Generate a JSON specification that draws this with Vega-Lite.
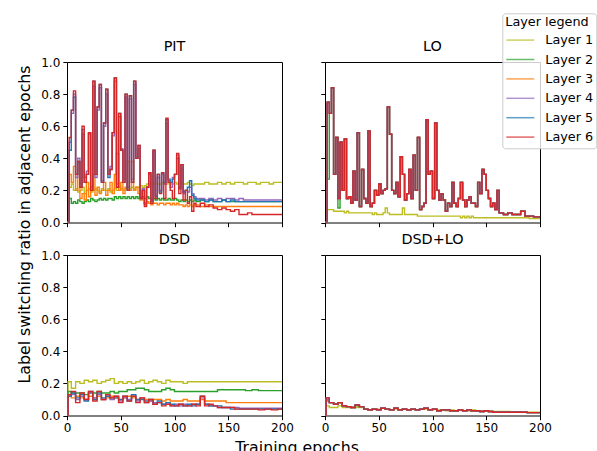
{
"$schema": "https://vega.github.io/schema/vega-lite/v6.json",
"padding": {"left": 15, "top": 12, "right": 0, "bottom": 0},
"config": {
  "font": "DejaVu Sans",
  "view": {"stroke": "black", "strokeWidth": 1},
  "title": {"fontSize": 14.4, "fontWeight": "normal", "color": "black", "offset": 7.4, "baseline": "alphabetic", "anchor": "middle"},
  "axis": {"grid": false, "domain": false, "tickColor": "black", "tickSize": 4.2, "tickWidth": 1, "labelColor": "black", "labelFontSize": 12, "labelPadding": 3, "titleFontWeight": "normal", "titleFontSize": 15.8, "titleColor": "black", "labelFlush": false, "labelOverlap": false}
},
"datasets": {"d": [
{"p":"PIT","e":0,"L1":0,"L2":0,"L3":0,"L4":0,"L5":0,"L6":0},
{"p":"PIT","e":2,"L1":0.22,"L2":0.15,"L3":0.30,"L4":0.50,"L5":0.45,"L6":0.53},
{"p":"PIT","e":4,"L1":0.24,"L2":0.12,"L3":0.25,"L4":0.68,"L5":0.70,"L6":0.70},
{"p":"PIT","e":6,"L1":0.20,"L2":0.13,"L3":0.35,"L4":0.80,"L5":0.78,"L6":0.82},
{"p":"PIT","e":8,"L1":0.21,"L2":0.12,"L3":0.20,"L4":0.28,"L5":0.30,"L6":0.30},
{"p":"PIT","e":10,"L1":0.19,"L2":0.14,"L3":0.37,"L4":0.40,"L5":0.38,"L6":0.38},
{"p":"PIT","e":12,"L1":0.20,"L2":0.13,"L3":0.15,"L4":0.24,"L5":0.22,"L6":0.22},
{"p":"PIT","e":14,"L1":0.22,"L2":0.12,"L3":0.18,"L4":0.55,"L5":0.58,"L6":0.60},
{"p":"PIT","e":16,"L1":0.18,"L2":0.13,"L3":0.14,"L4":0.28,"L5":0.25,"L6":0.25},
{"p":"PIT","e":18,"L1":0.20,"L2":0.14,"L3":0.25,"L4":0.32,"L5":0.30,"L6":0.30},
{"p":"PIT","e":20,"L1":0.21,"L2":0.13,"L3":0.16,"L4":0.55,"L5":0.56,"L6":0.56},
{"p":"PIT","e":22,"L1":0.19,"L2":0.15,"L3":0.20,"L4":0.22,"L5":0.20,"L6":0.20},
{"p":"PIT","e":24,"L1":0.20,"L2":0.14,"L3":0.30,"L4":0.85,"L5":0.88,"L6":0.88},
{"p":"PIT","e":26,"L1":0.21,"L2":0.13,"L3":0.17,"L4":0.28,"L5":0.30,"L6":0.30},
{"p":"PIT","e":28,"L1":0.20,"L2":0.14,"L3":0.22,"L4":0.70,"L5":0.72,"L6":0.72},
{"p":"PIT","e":30,"L1":0.19,"L2":0.15,"L3":0.18,"L4":0.84,"L5":0.86,"L6":0.86},
{"p":"PIT","e":32,"L1":0.21,"L2":0.14,"L3":0.20,"L4":0.26,"L5":0.25,"L6":0.25},
{"p":"PIT","e":34,"L1":0.20,"L2":0.15,"L3":0.25,"L4":0.60,"L5":0.62,"L6":0.62},
{"p":"PIT","e":36,"L1":0.20,"L2":0.14,"L3":0.17,"L4":0.80,"L5":0.83,"L6":0.83},
{"p":"PIT","e":38,"L1":0.21,"L2":0.15,"L3":0.20,"L4":0.30,"L5":0.28,"L6":0.30},
{"p":"PIT","e":40,"L1":0.19,"L2":0.15,"L3":0.25,"L4":0.35,"L5":0.33,"L6":0.33},
{"p":"PIT","e":42,"L1":0.20,"L2":0.14,"L3":0.18,"L4":0.54,"L5":0.56,"L6":0.56},
{"p":"PIT","e":44,"L1":0.21,"L2":0.16,"L3":0.30,"L4":0.88,"L5":0.90,"L6":0.90},
{"p":"PIT","e":46,"L1":0.20,"L2":0.15,"L3":0.43,"L4":0.24,"L5":0.22,"L6":0.22},
{"p":"PIT","e":48,"L1":0.22,"L2":0.16,"L3":0.20,"L4":0.66,"L5":0.68,"L6":0.68},
{"p":"PIT","e":50,"L1":0.21,"L2":0.15,"L3":0.25,"L4":0.46,"L5":0.45,"L6":0.45},
{"p":"PIT","e":52,"L1":0.20,"L2":0.16,"L3":0.18,"L4":0.27,"L5":0.25,"L6":0.25},
{"p":"PIT","e":54,"L1":0.21,"L2":0.15,"L3":0.22,"L4":0.78,"L5":0.80,"L6":0.80},
{"p":"PIT","e":56,"L1":0.22,"L2":0.16,"L3":0.38,"L4":0.22,"L5":0.20,"L6":0.20},
{"p":"PIT","e":58,"L1":0.21,"L2":0.15,"L3":0.20,"L4":0.77,"L5":0.79,"L6":0.79},
{"p":"PIT","e":60,"L1":0.22,"L2":0.16,"L3":0.38,"L4":0.27,"L5":0.25,"L6":0.25},
{"p":"PIT","e":62,"L1":0.21,"L2":0.15,"L3":0.20,"L4":0.86,"L5":0.88,"L6":0.88},
{"p":"PIT","e":64,"L1":0.22,"L2":0.16,"L3":0.22,"L4":0.40,"L5":0.40,"L6":0.40},
{"p":"PIT","e":66,"L1":0.22,"L2":0.15,"L3":0.18,"L4":0.46,"L5":0.48,"L6":0.48},
{"p":"PIT","e":68,"L1":0.23,"L2":0.15,"L3":0.14,"L4":0.16,"L5":0.15,"L6":0.15},
{"p":"PIT","e":70,"L1":0.22,"L2":0.16,"L3":0.15,"L4":0.21,"L5":0.20,"L6":0.20},
{"p":"PIT","e":72,"L1":0.23,"L2":0.15,"L3":0.12,"L4":0.12,"L5":0.11,"L6":0.10},
{"p":"PIT","e":74,"L1":0.24,"L2":0.16,"L3":0.13,"L4":0.22,"L5":0.22,"L6":0.22},
{"p":"PIT","e":76,"L1":0.24,"L2":0.15,"L3":0.12,"L4":0.30,"L5":0.31,"L6":0.31},
{"p":"PIT","e":78,"L1":0.25,"L2":0.15,"L3":0.11,"L4":0.14,"L5":0.13,"L6":0.12},
{"p":"PIT","e":80,"L1":0.24,"L2":0.15,"L3":0.12,"L4":0.44,"L5":0.45,"L6":0.45},
{"p":"PIT","e":82,"L1":0.25,"L2":0.14,"L3":0.12,"L4":0.17,"L5":0.16,"L6":0.15},
{"p":"PIT","e":84,"L1":0.24,"L2":0.15,"L3":0.11,"L4":0.28,"L5":0.30,"L6":0.30},
{"p":"PIT","e":86,"L1":0.24,"L2":0.14,"L3":0.12,"L4":0.20,"L5":0.19,"L6":0.18},
{"p":"PIT","e":88,"L1":0.25,"L2":0.15,"L3":0.12,"L4":0.30,"L5":0.31,"L6":0.31},
{"p":"PIT","e":90,"L1":0.24,"L2":0.14,"L3":0.11,"L4":0.24,"L5":0.25,"L6":0.15},
{"p":"PIT","e":92,"L1":0.24,"L2":0.14,"L3":0.12,"L4":0.62,"L5":0.64,"L6":0.65},
{"p":"PIT","e":94,"L1":0.25,"L2":0.15,"L3":0.12,"L4":0.26,"L5":0.27,"L6":0.25},
{"p":"PIT","e":96,"L1":0.24,"L2":0.14,"L3":0.11,"L4":0.22,"L5":0.25,"L6":0.20},
{"p":"PIT","e":98,"L1":0.24,"L2":0.14,"L3":0.12,"L4":0.28,"L5":0.27,"L6":0.15},
{"p":"PIT","e":100,"L1":0.25,"L2":0.15,"L3":0.11,"L4":0.30,"L5":0.30,"L6":0.30},
{"p":"PIT","e":102,"L1":0.24,"L2":0.14,"L3":0.12,"L4":0.42,"L5":0.40,"L6":0.43},
{"p":"PIT","e":104,"L1":0.24,"L2":0.13,"L3":0.11,"L4":0.22,"L5":0.21,"L6":0.18},
{"p":"PIT","e":106,"L1":0.25,"L2":0.14,"L3":0.11,"L4":0.34,"L5":0.36,"L6":0.36},
{"p":"PIT","e":108,"L1":0.24,"L2":0.13,"L3":0.10,"L4":0.18,"L5":0.19,"L6":0.14},
{"p":"PIT","e":110,"L1":0.24,"L2":0.14,"L3":0.11,"L4":0.20,"L5":0.20,"L6":0.20},
{"p":"PIT","e":112,"L1":0.25,"L2":0.13,"L3":0.10,"L4":0.19,"L5":0.22,"L6":0.12},
{"p":"PIT","e":114,"L1":0.24,"L2":0.14,"L3":0.11,"L4":0.22,"L5":0.26,"L6":0.16},
{"p":"PIT","e":116,"L1":0.23,"L2":0.13,"L3":0.10,"L4":0.18,"L5":0.17,"L6":0.07},
{"p":"PIT","e":118,"L1":0.24,"L2":0.14,"L3":0.11,"L4":0.16,"L5":0.15,"L6":0.12},
{"p":"PIT","e":120,"L1":0.24,"L2":0.13,"L3":0.11,"L4":0.15,"L5":0.14,"L6":0.10},
{"p":"PIT","e":124,"L1":0.24,"L2":0.14,"L3":0.10,"L4":0.15,"L5":0.14,"L6":0.12},
{"p":"PIT","e":128,"L1":0.25,"L2":0.13,"L3":0.11,"L4":0.14,"L5":0.13,"L6":0.10},
{"p":"PIT","e":132,"L1":0.24,"L2":0.14,"L3":0.10,"L4":0.15,"L5":0.14,"L6":0.11},
{"p":"PIT","e":136,"L1":0.24,"L2":0.13,"L3":0.10,"L4":0.14,"L5":0.13,"L6":0.09},
{"p":"PIT","e":140,"L1":0.25,"L2":0.13,"L3":0.10,"L4":0.15,"L5":0.13,"L6":0.08},
{"p":"PIT","e":144,"L1":0.24,"L2":0.14,"L3":0.10,"L4":0.14,"L5":0.14,"L6":0.09},
{"p":"PIT","e":148,"L1":0.25,"L2":0.13,"L3":0.10,"L4":0.15,"L5":0.13,"L6":0.08},
{"p":"PIT","e":152,"L1":0.24,"L2":0.13,"L3":0.10,"L4":0.15,"L5":0.14,"L6":0.07},
{"p":"PIT","e":156,"L1":0.25,"L2":0.13,"L3":0.10,"L4":0.14,"L5":0.13,"L6":0.08},
{"p":"PIT","e":160,"L1":0.25,"L2":0.13,"L3":0.10,"L4":0.15,"L5":0.13,"L6":0.05},
{"p":"PIT","e":164,"L1":0.24,"L2":0.13,"L3":0.10,"L4":0.14,"L5":0.13,"L6":0.05},
{"p":"PIT","e":168,"L1":0.25,"L2":0.13,"L3":0.10,"L4":0.14,"L5":0.13,"L6":0.06},
{"p":"PIT","e":172,"L1":0.25,"L2":0.13,"L3":0.10,"L4":0.14,"L5":0.13,"L6":0.05},
{"p":"PIT","e":176,"L1":0.24,"L2":0.13,"L3":0.10,"L4":0.14,"L5":0.13,"L6":0.05},
{"p":"PIT","e":180,"L1":0.25,"L2":0.13,"L3":0.10,"L4":0.14,"L5":0.13,"L6":0.05},
{"p":"PIT","e":184,"L1":0.25,"L2":0.13,"L3":0.10,"L4":0.14,"L5":0.13,"L6":0.05},
{"p":"PIT","e":188,"L1":0.24,"L2":0.13,"L3":0.10,"L4":0.14,"L5":0.13,"L6":0.05},
{"p":"PIT","e":192,"L1":0.25,"L2":0.13,"L3":0.10,"L4":0.14,"L5":0.13,"L6":0.05},
{"p":"PIT","e":196,"L1":0.25,"L2":0.13,"L3":0.10,"L4":0.14,"L5":0.13,"L6":0.05},
{"p":"PIT","e":200,"L1":0.25,"L2":0.13,"L3":0.10,"L4":0.14,"L5":0.13,"L6":0.05},

{"p":"LO","e":0,"L1":0,"L2":0,"L3":0,"L4":0,"L5":0,"L6":0},
{"p":"LO","e":2,"L1":0.08,"L2":0.27,"L3":0.74,"L4":0.75,"L5":0.75,"L6":0.75},
{"p":"LO","e":4,"L1":0.08,"L2":0.68,"L3":0.68,"L4":0.68,"L5":0.68,"L6":0.68},
{"p":"LO","e":6,"L1":0.08,"L2":0.84,"L3":0.84,"L4":0.84,"L5":0.84,"L6":0.84},
{"p":"LO","e":8,"L1":0.07,"L2":0.30,"L3":0.30,"L4":0.30,"L5":0.30,"L6":0.30},
{"p":"LO","e":10,"L1":0.07,"L2":0.53,"L3":0.53,"L4":0.53,"L5":0.53,"L6":0.53},
{"p":"LO","e":12,"L1":0.07,"L2":0.09,"L3":0.15,"L4":0.15,"L5":0.15,"L6":0.15},
{"p":"LO","e":14,"L1":0.07,"L2":0.50,"L3":0.50,"L4":0.50,"L5":0.50,"L6":0.50},
{"p":"LO","e":16,"L1":0.07,"L2":0.20,"L3":0.20,"L4":0.20,"L5":0.20,"L6":0.20},
{"p":"LO","e":18,"L1":0.06,"L2":0.52,"L3":0.52,"L4":0.52,"L5":0.52,"L6":0.52},
{"p":"LO","e":20,"L1":0.07,"L2":0.15,"L3":0.15,"L4":0.15,"L5":0.15,"L6":0.15},
{"p":"LO","e":22,"L1":0.06,"L2":0.16,"L3":0.16,"L4":0.16,"L5":0.16,"L6":0.16},
{"p":"LO","e":24,"L1":0.06,"L2":0.12,"L3":0.12,"L4":0.12,"L5":0.12,"L6":0.12},
{"p":"LO","e":26,"L1":0.06,"L2":0.32,"L3":0.32,"L4":0.32,"L5":0.32,"L6":0.32},
{"p":"LO","e":28,"L1":0.06,"L2":0.14,"L3":0.14,"L4":0.14,"L5":0.14,"L6":0.14},
{"p":"LO","e":30,"L1":0.06,"L2":0.56,"L3":0.56,"L4":0.56,"L5":0.56,"L6":0.56},
{"p":"LO","e":32,"L1":0.06,"L2":0.10,"L3":0.10,"L4":0.10,"L5":0.10,"L6":0.10},
{"p":"LO","e":34,"L1":0.06,"L2":0.33,"L3":0.33,"L4":0.33,"L5":0.33,"L6":0.33},
{"p":"LO","e":36,"L1":0.06,"L2":0.15,"L3":0.15,"L4":0.15,"L5":0.15,"L6":0.15},
{"p":"LO","e":38,"L1":0.06,"L2":0.12,"L3":0.12,"L4":0.12,"L5":0.12,"L6":0.12},
{"p":"LO","e":40,"L1":0.06,"L2":0.57,"L3":0.57,"L4":0.57,"L5":0.57,"L6":0.57},
{"p":"LO","e":42,"L1":0.06,"L2":0.10,"L3":0.10,"L4":0.10,"L5":0.10,"L6":0.10},
{"p":"LO","e":44,"L1":0.05,"L2":0.12,"L3":0.12,"L4":0.12,"L5":0.12,"L6":0.12},
{"p":"LO","e":46,"L1":0.06,"L2":0.20,"L3":0.20,"L4":0.20,"L5":0.20,"L6":0.20},
{"p":"LO","e":48,"L1":0.05,"L2":0.17,"L3":0.17,"L4":0.17,"L5":0.17,"L6":0.17},
{"p":"LO","e":50,"L1":0.05,"L2":0.24,"L3":0.24,"L4":0.24,"L5":0.24,"L6":0.24},
{"p":"LO","e":52,"L1":0.05,"L2":0.18,"L3":0.18,"L4":0.18,"L5":0.18,"L6":0.18},
{"p":"LO","e":54,"L1":0.06,"L2":0.20,"L3":0.20,"L4":0.20,"L5":0.20,"L6":0.20},
{"p":"LO","e":56,"L1":0.09,"L2":0.21,"L3":0.21,"L4":0.21,"L5":0.21,"L6":0.21},
{"p":"LO","e":58,"L1":0.06,"L2":0.72,"L3":0.72,"L4":0.72,"L5":0.72,"L6":0.72},
{"p":"LO","e":60,"L1":0.05,"L2":0.55,"L3":0.55,"L4":0.55,"L5":0.55,"L6":0.55},
{"p":"LO","e":62,"L1":0.05,"L2":0.20,"L3":0.20,"L4":0.20,"L5":0.20,"L6":0.20},
{"p":"LO","e":64,"L1":0.05,"L2":0.18,"L3":0.18,"L4":0.18,"L5":0.18,"L6":0.18},
{"p":"LO","e":66,"L1":0.05,"L2":0.25,"L3":0.25,"L4":0.25,"L5":0.25,"L6":0.25},
{"p":"LO","e":68,"L1":0.05,"L2":0.16,"L3":0.16,"L4":0.16,"L5":0.16,"L6":0.16},
{"p":"LO","e":70,"L1":0.05,"L2":0.41,"L3":0.41,"L4":0.41,"L5":0.41,"L6":0.41},
{"p":"LO","e":72,"L1":0.09,"L2":0.30,"L3":0.30,"L4":0.30,"L5":0.30,"L6":0.30},
{"p":"LO","e":74,"L1":0.05,"L2":0.14,"L3":0.14,"L4":0.14,"L5":0.14,"L6":0.14},
{"p":"LO","e":76,"L1":0.05,"L2":0.18,"L3":0.18,"L4":0.18,"L5":0.18,"L6":0.18},
{"p":"LO","e":78,"L1":0.05,"L2":0.33,"L3":0.33,"L4":0.33,"L5":0.33,"L6":0.33},
{"p":"LO","e":80,"L1":0.05,"L2":0.15,"L3":0.15,"L4":0.15,"L5":0.15,"L6":0.15},
{"p":"LO","e":82,"L1":0.05,"L2":0.42,"L3":0.42,"L4":0.42,"L5":0.42,"L6":0.42},
{"p":"LO","e":84,"L1":0.05,"L2":0.20,"L3":0.20,"L4":0.20,"L5":0.20,"L6":0.20},
{"p":"LO","e":86,"L1":0.04,"L2":0.53,"L3":0.53,"L4":0.53,"L5":0.53,"L6":0.53},
{"p":"LO","e":88,"L1":0.04,"L2":0.08,"L3":0.08,"L4":0.08,"L5":0.08,"L6":0.08},
{"p":"LO","e":90,"L1":0.04,"L2":0.10,"L3":0.10,"L4":0.10,"L5":0.10,"L6":0.10},
{"p":"LO","e":92,"L1":0.04,"L2":0.12,"L3":0.12,"L4":0.12,"L5":0.12,"L6":0.12},
{"p":"LO","e":94,"L1":0.04,"L2":0.64,"L3":0.64,"L4":0.64,"L5":0.64,"L6":0.64},
{"p":"LO","e":96,"L1":0.04,"L2":0.30,"L3":0.30,"L4":0.30,"L5":0.30,"L6":0.30},
{"p":"LO","e":98,"L1":0.04,"L2":0.32,"L3":0.32,"L4":0.32,"L5":0.32,"L6":0.32},
{"p":"LO","e":100,"L1":0.04,"L2":0.15,"L3":0.15,"L4":0.15,"L5":0.15,"L6":0.15},
{"p":"LO","e":102,"L1":0.04,"L2":0.62,"L3":0.62,"L4":0.62,"L5":0.62,"L6":0.62},
{"p":"LO","e":104,"L1":0.04,"L2":0.20,"L3":0.20,"L4":0.20,"L5":0.20,"L6":0.20},
{"p":"LO","e":106,"L1":0.04,"L2":0.14,"L3":0.14,"L4":0.14,"L5":0.14,"L6":0.14},
{"p":"LO","e":108,"L1":0.04,"L2":0.18,"L3":0.18,"L4":0.18,"L5":0.18,"L6":0.18},
{"p":"LO","e":110,"L1":0.04,"L2":0.14,"L3":0.14,"L4":0.14,"L5":0.14,"L6":0.14},
{"p":"LO","e":112,"L1":0.04,"L2":0.07,"L3":0.07,"L4":0.07,"L5":0.07,"L6":0.07},
{"p":"LO","e":114,"L1":0.04,"L2":0.12,"L3":0.12,"L4":0.12,"L5":0.12,"L6":0.12},
{"p":"LO","e":116,"L1":0.04,"L2":0.10,"L3":0.10,"L4":0.10,"L5":0.10,"L6":0.10},
{"p":"LO","e":118,"L1":0.04,"L2":0.25,"L3":0.25,"L4":0.25,"L5":0.25,"L6":0.25},
{"p":"LO","e":120,"L1":0.04,"L2":0.12,"L3":0.12,"L4":0.12,"L5":0.12,"L6":0.12},
{"p":"LO","e":122,"L1":0.04,"L2":0.10,"L3":0.10,"L4":0.10,"L5":0.10,"L6":0.10},
{"p":"LO","e":124,"L1":0.04,"L2":0.15,"L3":0.15,"L4":0.15,"L5":0.15,"L6":0.15},
{"p":"LO","e":126,"L1":0.03,"L2":0.25,"L3":0.25,"L4":0.25,"L5":0.25,"L6":0.25},
{"p":"LO","e":128,"L1":0.04,"L2":0.14,"L3":0.14,"L4":0.14,"L5":0.14,"L6":0.14},
{"p":"LO","e":130,"L1":0.03,"L2":0.10,"L3":0.10,"L4":0.10,"L5":0.10,"L6":0.10},
{"p":"LO","e":132,"L1":0.04,"L2":0.14,"L3":0.14,"L4":0.14,"L5":0.14,"L6":0.14},
{"p":"LO","e":134,"L1":0.03,"L2":0.16,"L3":0.16,"L4":0.16,"L5":0.16,"L6":0.16},
{"p":"LO","e":136,"L1":0.04,"L2":0.12,"L3":0.12,"L4":0.12,"L5":0.12,"L6":0.12},
{"p":"LO","e":138,"L1":0.03,"L2":0.12,"L3":0.12,"L4":0.12,"L5":0.12,"L6":0.12},
{"p":"LO","e":140,"L1":0.03,"L2":0.10,"L3":0.10,"L4":0.10,"L5":0.10,"L6":0.10},
{"p":"LO","e":142,"L1":0.03,"L2":0.25,"L3":0.25,"L4":0.25,"L5":0.25,"L6":0.25},
{"p":"LO","e":144,"L1":0.03,"L2":0.18,"L3":0.18,"L4":0.18,"L5":0.18,"L6":0.18},
{"p":"LO","e":146,"L1":0.03,"L2":0.33,"L3":0.33,"L4":0.33,"L5":0.33,"L6":0.33},
{"p":"LO","e":148,"L1":0.03,"L2":0.30,"L3":0.30,"L4":0.30,"L5":0.30,"L6":0.30},
{"p":"LO","e":150,"L1":0.03,"L2":0.20,"L3":0.20,"L4":0.20,"L5":0.20,"L6":0.20},
{"p":"LO","e":152,"L1":0.03,"L2":0.15,"L3":0.15,"L4":0.15,"L5":0.15,"L6":0.15},
{"p":"LO","e":154,"L1":0.03,"L2":0.10,"L3":0.10,"L4":0.10,"L5":0.10,"L6":0.10},
{"p":"LO","e":156,"L1":0.03,"L2":0.12,"L3":0.12,"L4":0.12,"L5":0.12,"L6":0.12},
{"p":"LO","e":158,"L1":0.03,"L2":0.08,"L3":0.08,"L4":0.08,"L5":0.08,"L6":0.08},
{"p":"LO","e":160,"L1":0.03,"L2":0.20,"L3":0.20,"L4":0.20,"L5":0.20,"L6":0.20},
{"p":"LO","e":162,"L1":0.03,"L2":0.06,"L3":0.06,"L4":0.06,"L5":0.06,"L6":0.06},
{"p":"LO","e":166,"L1":0.03,"L2":0.05,"L3":0.05,"L4":0.05,"L5":0.05,"L6":0.05},
{"p":"LO","e":170,"L1":0.03,"L2":0.06,"L3":0.06,"L4":0.06,"L5":0.06,"L6":0.06},
{"p":"LO","e":174,"L1":0.03,"L2":0.05,"L3":0.05,"L4":0.05,"L5":0.05,"L6":0.05},
{"p":"LO","e":178,"L1":0.03,"L2":0.05,"L3":0.05,"L4":0.05,"L5":0.05,"L6":0.05},
{"p":"LO","e":182,"L1":0.03,"L2":0.07,"L3":0.07,"L4":0.07,"L5":0.07,"L6":0.07},
{"p":"LO","e":186,"L1":0.03,"L2":0.04,"L3":0.04,"L4":0.04,"L5":0.04,"L6":0.04},
{"p":"LO","e":190,"L1":0.025,"L2":0.04,"L3":0.04,"L4":0.04,"L5":0.04,"L6":0.04},
{"p":"LO","e":194,"L1":0.025,"L2":0.035,"L3":0.035,"L4":0.035,"L5":0.035,"L6":0.035},
{"p":"LO","e":200,"L1":0.025,"L2":0.035,"L3":0.035,"L4":0.035,"L5":0.035,"L6":0.035},

{"p":"DSD","e":0,"L1":0,"L2":0,"L3":0,"L4":0,"L5":0,"L6":0},
{"p":"DSD","e":1,"L1":0.21,"L2":0.15,"L3":0.12,"L4":0.12,"L5":0.12,"L6":0.13},
{"p":"DSD","e":4,"L1":0.17,"L2":0.14,"L3":0.11,"L4":0.13,"L5":0.14,"L6":0.15},
{"p":"DSD","e":8,"L1":0.21,"L2":0.14,"L3":0.12,"L4":0.10,"L5":0.11,"L6":0.08},
{"p":"DSD","e":12,"L1":0.20,"L2":0.14,"L3":0.11,"L4":0.12,"L5":0.13,"L6":0.14},
{"p":"DSD","e":16,"L1":0.22,"L2":0.13,"L3":0.10,"L4":0.10,"L5":0.09,"L6":0.10},
{"p":"DSD","e":20,"L1":0.21,"L2":0.14,"L3":0.12,"L4":0.14,"L5":0.15,"L6":0.15},
{"p":"DSD","e":24,"L1":0.22,"L2":0.14,"L3":0.11,"L4":0.11,"L5":0.10,"L6":0.09},
{"p":"DSD","e":28,"L1":0.20,"L2":0.15,"L3":0.12,"L4":0.13,"L5":0.14,"L6":0.15},
{"p":"DSD","e":32,"L1":0.21,"L2":0.14,"L3":0.10,"L4":0.10,"L5":0.11,"L6":0.10},
{"p":"DSD","e":36,"L1":0.22,"L2":0.14,"L3":0.11,"L4":0.12,"L5":0.12,"L6":0.13},
{"p":"DSD","e":40,"L1":0.23,"L2":0.15,"L3":0.12,"L4":0.10,"L5":0.11,"L6":0.11},
{"p":"DSD","e":44,"L1":0.20,"L2":0.14,"L3":0.11,"L4":0.12,"L5":0.11,"L6":0.12},
{"p":"DSD","e":48,"L1":0.21,"L2":0.15,"L3":0.10,"L4":0.09,"L5":0.10,"L6":0.08},
{"p":"DSD","e":52,"L1":0.20,"L2":0.15,"L3":0.11,"L4":0.11,"L5":0.12,"L6":0.12},
{"p":"DSD","e":56,"L1":0.21,"L2":0.16,"L3":0.12,"L4":0.10,"L5":0.09,"L6":0.09},
{"p":"DSD","e":60,"L1":0.20,"L2":0.16,"L3":0.11,"L4":0.12,"L5":0.13,"L6":0.12},
{"p":"DSD","e":64,"L1":0.21,"L2":0.17,"L3":0.10,"L4":0.09,"L5":0.10,"L6":0.08},
{"p":"DSD","e":68,"L1":0.22,"L2":0.17,"L3":0.11,"L4":0.11,"L5":0.10,"L6":0.11},
{"p":"DSD","e":72,"L1":0.20,"L2":0.16,"L3":0.10,"L4":0.08,"L5":0.09,"L6":0.08},
{"p":"DSD","e":76,"L1":0.21,"L2":0.15,"L3":0.09,"L4":0.09,"L5":0.10,"L6":0.10},
{"p":"DSD","e":80,"L1":0.22,"L2":0.15,"L3":0.10,"L4":0.08,"L5":0.07,"L6":0.07},
{"p":"DSD","e":84,"L1":0.21,"L2":0.15,"L3":0.10,"L4":0.08,"L5":0.09,"L6":0.08},
{"p":"DSD","e":88,"L1":0.20,"L2":0.16,"L3":0.09,"L4":0.07,"L5":0.07,"L6":0.06},
{"p":"DSD","e":92,"L1":0.22,"L2":0.17,"L3":0.10,"L4":0.07,"L5":0.08,"L6":0.07},
{"p":"DSD","e":96,"L1":0.21,"L2":0.16,"L3":0.09,"L4":0.06,"L5":0.07,"L6":0.06},
{"p":"DSD","e":100,"L1":0.21,"L2":0.15,"L3":0.09,"L4":0.07,"L5":0.06,"L6":0.06},
{"p":"DSD","e":104,"L1":0.21,"L2":0.15,"L3":0.09,"L4":0.06,"L5":0.07,"L6":0.07},
{"p":"DSD","e":108,"L1":0.20,"L2":0.15,"L3":0.10,"L4":0.07,"L5":0.06,"L6":0.06},
{"p":"DSD","e":112,"L1":0.21,"L2":0.15,"L3":0.09,"L4":0.06,"L5":0.07,"L6":0.06},
{"p":"DSD","e":116,"L1":0.21,"L2":0.15,"L3":0.09,"L4":0.07,"L5":0.06,"L6":0.07},
{"p":"DSD","e":120,"L1":0.21,"L2":0.15,"L3":0.09,"L4":0.07,"L5":0.07,"L6":0.06},
{"p":"DSD","e":124,"L1":0.21,"L2":0.15,"L3":0.10,"L4":0.11,"L5":0.12,"L6":0.12},
{"p":"DSD","e":128,"L1":0.21,"L2":0.15,"L3":0.09,"L4":0.07,"L5":0.07,"L6":0.06},
{"p":"DSD","e":132,"L1":0.21,"L2":0.15,"L3":0.09,"L4":0.06,"L5":0.06,"L6":0.07},
{"p":"DSD","e":136,"L1":0.21,"L2":0.15,"L3":0.09,"L4":0.06,"L5":0.06,"L6":0.06},
{"p":"DSD","e":140,"L1":0.21,"L2":0.16,"L3":0.09,"L4":0.05,"L5":0.06,"L6":0.05},
{"p":"DSD","e":144,"L1":0.21,"L2":0.16,"L3":0.09,"L4":0.05,"L5":0.05,"L6":0.05},
{"p":"DSD","e":148,"L1":0.21,"L2":0.16,"L3":0.08,"L4":0.05,"L5":0.05,"L6":0.05},
{"p":"DSD","e":152,"L1":0.21,"L2":0.16,"L3":0.08,"L4":0.05,"L5":0.04,"L6":0.05},
{"p":"DSD","e":156,"L1":0.21,"L2":0.16,"L3":0.08,"L4":0.05,"L5":0.04,"L6":0.04},
{"p":"DSD","e":160,"L1":0.21,"L2":0.16,"L3":0.08,"L4":0.045,"L5":0.04,"L6":0.04},
{"p":"DSD","e":166,"L1":0.21,"L2":0.155,"L3":0.08,"L4":0.045,"L5":0.04,"L6":0.04},
{"p":"DSD","e":172,"L1":0.21,"L2":0.16,"L3":0.08,"L4":0.045,"L5":0.04,"L6":0.04},
{"p":"DSD","e":178,"L1":0.21,"L2":0.155,"L3":0.08,"L4":0.045,"L5":0.04,"L6":0.035},
{"p":"DSD","e":184,"L1":0.21,"L2":0.155,"L3":0.08,"L4":0.045,"L5":0.04,"L6":0.04},
{"p":"DSD","e":190,"L1":0.21,"L2":0.155,"L3":0.08,"L4":0.045,"L5":0.04,"L6":0.035},
{"p":"DSD","e":196,"L1":0.21,"L2":0.155,"L3":0.08,"L4":0.045,"L5":0.04,"L6":0.04},
{"p":"DSD","e":200,"L1":0.21,"L2":0.155,"L3":0.08,"L4":0.045,"L5":0.04,"L6":0.04},

{"p":"DSDLO","e":0,"L1":0,"L2":0,"L3":0,"L4":0,"L5":0,"L6":0},
{"p":"DSDLO","e":1,"L1":0.06,"L2":0.09,"L3":0.10,"L4":0.10,"L5":0.11,"L6":0.11},
{"p":"DSDLO","e":4,"L1":0.05,"L2":0.08,"L3":0.08,"L4":0.08,"L5":0.08,"L6":0.08},
{"p":"DSDLO","e":8,"L1":0.05,"L2":0.07,"L3":0.07,"L4":0.07,"L5":0.07,"L6":0.07},
{"p":"DSDLO","e":12,"L1":0.06,"L2":0.08,"L3":0.08,"L4":0.08,"L5":0.08,"L6":0.08},
{"p":"DSDLO","e":16,"L1":0.05,"L2":0.06,"L3":0.06,"L4":0.06,"L5":0.06,"L6":0.06},
{"p":"DSDLO","e":20,"L1":0.05,"L2":0.055,"L3":0.055,"L4":0.055,"L5":0.055,"L6":0.055},
{"p":"DSDLO","e":24,"L1":0.05,"L2":0.05,"L3":0.05,"L4":0.05,"L5":0.05,"L6":0.05},
{"p":"DSDLO","e":28,"L1":0.05,"L2":0.06,"L3":0.065,"L4":0.065,"L5":0.065,"L6":0.065},
{"p":"DSDLO","e":32,"L1":0.05,"L2":0.055,"L3":0.055,"L4":0.055,"L5":0.055,"L6":0.055},
{"p":"DSDLO","e":36,"L1":0.04,"L2":0.04,"L3":0.04,"L4":0.04,"L5":0.04,"L6":0.04},
{"p":"DSDLO","e":40,"L1":0.035,"L2":0.035,"L3":0.035,"L4":0.035,"L5":0.035,"L6":0.035},
{"p":"DSDLO","e":44,"L1":0.04,"L2":0.04,"L3":0.04,"L4":0.04,"L5":0.04,"L6":0.04},
{"p":"DSDLO","e":48,"L1":0.04,"L2":0.035,"L3":0.035,"L4":0.035,"L5":0.035,"L6":0.035},
{"p":"DSDLO","e":52,"L1":0.045,"L2":0.045,"L3":0.045,"L4":0.045,"L5":0.045,"L6":0.045},
{"p":"DSDLO","e":56,"L1":0.04,"L2":0.04,"L3":0.04,"L4":0.04,"L5":0.04,"L6":0.04},
{"p":"DSDLO","e":60,"L1":0.035,"L2":0.035,"L3":0.035,"L4":0.035,"L5":0.035,"L6":0.035},
{"p":"DSDLO","e":64,"L1":0.04,"L2":0.045,"L3":0.045,"L4":0.045,"L5":0.045,"L6":0.045},
{"p":"DSDLO","e":68,"L1":0.035,"L2":0.035,"L3":0.035,"L4":0.035,"L5":0.035,"L6":0.035},
{"p":"DSDLO","e":72,"L1":0.04,"L2":0.04,"L3":0.04,"L4":0.04,"L5":0.04,"L6":0.04},
{"p":"DSDLO","e":76,"L1":0.035,"L2":0.035,"L3":0.035,"L4":0.035,"L5":0.035,"L6":0.035},
{"p":"DSDLO","e":80,"L1":0.04,"L2":0.04,"L3":0.04,"L4":0.04,"L5":0.04,"L6":0.04},
{"p":"DSDLO","e":84,"L1":0.035,"L2":0.035,"L3":0.035,"L4":0.035,"L5":0.035,"L6":0.035},
{"p":"DSDLO","e":88,"L1":0.04,"L2":0.04,"L3":0.04,"L4":0.04,"L5":0.04,"L6":0.04},
{"p":"DSDLO","e":92,"L1":0.04,"L2":0.045,"L3":0.045,"L4":0.045,"L5":0.045,"L6":0.045},
{"p":"DSDLO","e":96,"L1":0.035,"L2":0.035,"L3":0.035,"L4":0.035,"L5":0.035,"L6":0.035},
{"p":"DSDLO","e":100,"L1":0.04,"L2":0.04,"L3":0.04,"L4":0.04,"L5":0.04,"L6":0.04},
{"p":"DSDLO","e":104,"L1":0.035,"L2":0.03,"L3":0.03,"L4":0.03,"L5":0.03,"L6":0.03},
{"p":"DSDLO","e":108,"L1":0.035,"L2":0.035,"L3":0.035,"L4":0.035,"L5":0.035,"L6":0.035},
{"p":"DSDLO","e":112,"L1":0.03,"L2":0.035,"L3":0.035,"L4":0.035,"L5":0.035,"L6":0.035},
{"p":"DSDLO","e":116,"L1":0.035,"L2":0.03,"L3":0.03,"L4":0.03,"L5":0.03,"L6":0.03},
{"p":"DSDLO","e":120,"L1":0.03,"L2":0.03,"L3":0.03,"L4":0.03,"L5":0.03,"L6":0.03},
{"p":"DSDLO","e":124,"L1":0.035,"L2":0.035,"L3":0.035,"L4":0.035,"L5":0.035,"L6":0.035},
{"p":"DSDLO","e":128,"L1":0.03,"L2":0.03,"L3":0.03,"L4":0.03,"L5":0.03,"L6":0.03},
{"p":"DSDLO","e":132,"L1":0.03,"L2":0.035,"L3":0.035,"L4":0.035,"L5":0.035,"L6":0.035},
{"p":"DSDLO","e":136,"L1":0.035,"L2":0.03,"L3":0.03,"L4":0.03,"L5":0.03,"L6":0.03},
{"p":"DSDLO","e":140,"L1":0.03,"L2":0.03,"L3":0.03,"L4":0.03,"L5":0.03,"L6":0.03},
{"p":"DSDLO","e":144,"L1":0.03,"L2":0.025,"L3":0.025,"L4":0.025,"L5":0.025,"L6":0.025},
{"p":"DSDLO","e":148,"L1":0.03,"L2":0.03,"L3":0.03,"L4":0.03,"L5":0.03,"L6":0.03},
{"p":"DSDLO","e":152,"L1":0.025,"L2":0.025,"L3":0.025,"L4":0.025,"L5":0.025,"L6":0.025},
{"p":"DSDLO","e":156,"L1":0.025,"L2":0.02,"L3":0.02,"L4":0.02,"L5":0.02,"L6":0.02},
{"p":"DSDLO","e":164,"L1":0.025,"L2":0.02,"L3":0.02,"L4":0.02,"L5":0.02,"L6":0.02},
{"p":"DSDLO","e":172,"L1":0.02,"L2":0.02,"L3":0.02,"L4":0.02,"L5":0.02,"L6":0.02},
{"p":"DSDLO","e":180,"L1":0.02,"L2":0.02,"L3":0.02,"L4":0.02,"L5":0.02,"L6":0.02},
{"p":"DSDLO","e":188,"L1":0.02,"L2":0.018,"L3":0.018,"L4":0.018,"L5":0.018,"L6":0.018},
{"p":"DSDLO","e":200,"L1":0.02,"L2":0.018,"L3":0.018,"L4":0.018,"L5":0.018,"L6":0.018}
]},
"data": {"name": "d"},
"columns": 2,
"spacing": {"row": 32, "column": 43},
"bounds": "flush",
"concat": [
  {"title": {"text": "PIT", "offset": 1.4}, "width": 215, "height": 160.5,
   "transform": [{"filter": "datum.p==='PIT'"}, {"fold": ["L1","L2","L3","L4","L5","L6"], "as": ["layer","v"]}],
   "mark": {"type": "line", "interpolate": "step-after", "strokeWidth": 1.4, "clip": true},
   "encoding": {
    "x": {"field": "e", "type": "quantitative", "scale": {"domain": [0,200], "nice": false}, "axis": {"values": [0,50,100,150,200], "labels": false, "title": null}},
    "y": {"field": "v", "type": "quantitative", "scale": {"domain": [0,1], "nice": false}, "axis": {"values": [0,0.2,0.4,0.6,0.8,1], "format": ".1f", "title": "Label switching ratio in adjacent epochs", "titleX": -37.7, "titleY": 162, "titleAlign": "center", "titleBaseline": "alphabetic", "titleAngle": 270}},
    "color": {"field": "layer", "type": "nominal", "scale": {"domain": ["L1","L2","L3","L4","L5","L6"], "range": ["#bcbd22","#2ca02c","#ff7f0e","#9467bd","#1f77b4","#d62728"]},
      "legend": {"title": "Layer legend", "orient": "none", "legendX": 435.3, "legendY": -48.7, "symbolType": "stroke", "symbolSize": 784, "symbolStrokeWidth": 1.5, "symbolOpacity": 0.7, "labelFontSize": 12.8, "titleFontSize": 12.8, "titleFontWeight": "normal", "labelColor": "black", "titleColor": "black", "fillColor": "rgba(255,255,255,0.8)", "strokeColor": "#cccccc", "cornerRadius": 3, "padding": 3, "clipHeight": 16, "rowPadding": 3.4, "labelOffset": 10, "titlePadding": 3, "labelExpr": "'Layer ' + slice(datum.label, 1)"}}
   }},
  {"title": "LO", "width": 215, "height": 160.5,
   "transform": [{"filter": "datum.p==='LO'"}, {"fold": ["L1","L2","L3","L4","L5","L6"], "as": ["layer","v"]}],
   "mark": {"type": "line", "interpolate": "step-after", "strokeWidth": 1.4, "clip": true},
   "encoding": {
    "x": {"field": "e", "type": "quantitative", "scale": {"domain": [0,200], "nice": false}, "axis": {"values": [0,50,100,150,200], "labels": false, "title": null}},
    "y": {"field": "v", "type": "quantitative", "scale": {"domain": [0,1], "nice": false}, "axis": {"values": [0,0.2,0.4,0.6,0.8,1], "labels": false, "title": null}},
    "color": {"field": "layer", "type": "nominal", "scale": {"domain": ["L1","L2","L3","L4","L5","L6"], "range": ["#bcbd22","#2ca02c","#ff7f0e","#9467bd","#1f77b4","#d62728"]}}
   }},
  {"title": {"text": "DSD", "offset": 1.4}, "width": 215, "height": 160.5,
   "transform": [{"filter": "datum.p==='DSD'"}, {"fold": ["L1","L2","L3","L4","L5","L6"], "as": ["layer","v"]}],
   "mark": {"type": "line", "interpolate": "step-after", "strokeWidth": 1.4, "clip": true},
   "encoding": {
    "x": {"field": "e", "type": "quantitative", "scale": {"domain": [0,200], "nice": false}, "axis": {"values": [0,50,100,150,200], "title": "Training epochs", "titleX": 229.6, "titleY": 37, "titleAlign": "center", "titleBaseline": "alphabetic"}},
    "y": {"field": "v", "type": "quantitative", "scale": {"domain": [0,1], "nice": false}, "axis": {"values": [0,0.2,0.4,0.6,0.8,1], "format": ".1f", "title": null}},
    "color": {"field": "layer", "type": "nominal", "scale": {"domain": ["L1","L2","L3","L4","L5","L6"], "range": ["#bcbd22","#2ca02c","#ff7f0e","#9467bd","#1f77b4","#d62728"]}}
   }},
  {"title": "DSD+LO", "width": 215, "height": 160.5,
   "transform": [{"filter": "datum.p==='DSDLO'"}, {"fold": ["L1","L2","L3","L4","L5","L6"], "as": ["layer","v"]}],
   "mark": {"type": "line", "interpolate": "step-after", "strokeWidth": 1.4, "clip": true},
   "encoding": {
    "x": {"field": "e", "type": "quantitative", "scale": {"domain": [0,200], "nice": false}, "axis": {"values": [0,50,100,150,200], "title": null}},
    "y": {"field": "v", "type": "quantitative", "scale": {"domain": [0,1], "nice": false}, "axis": {"values": [0,0.2,0.4,0.6,0.8,1], "labels": false, "title": null}},
    "color": {"field": "layer", "type": "nominal", "scale": {"domain": ["L1","L2","L3","L4","L5","L6"], "range": ["#bcbd22","#2ca02c","#ff7f0e","#9467bd","#1f77b4","#d62728"]}}
   }}
]
}
